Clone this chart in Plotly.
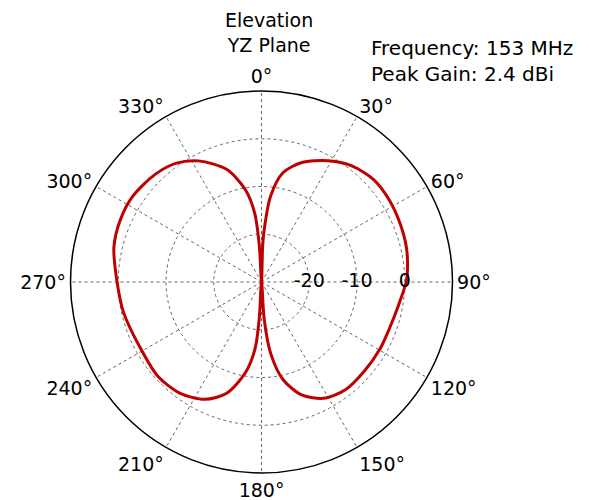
import plotly.graph_objects as go

# Elevation pattern (YZ plane), gain in dBi vs angle (deg, clockwise from top)
theta_deg = [0, 1.8, 2.9, 6.0, 11.1, 18.6, 28.9, 37.9, 47.6, 57.3, 67.2, 76.6, 85.7, 90,
             99.6, 110.1, 119.5, 131.0, 142.1, 151.9, 160.4, 167.6, 172.8, 175.9, 180,
             183.5, 185.5, 190.1, 197.4, 205.8, 216.4, 227.7, 242.5, 257.8, 270,
             283.2, 293.6, 303.6, 315.2, 324.4, 332.5, 342.8, 350.1, 354.4, 356.6, 360]
gain_dbi = [-30, -22.8, -19.2, -12.0, -6.7, -3.6, -1.0, 0.8, 1.8, 1.8, 1.5, 1.2, 0.65, 0.3,
            -0.9, -1.5, -1.5, -1.5, -1.4, -2.4, -4.9, -9.1, -15.1, -22.3, -30,
            -22.5, -16.0, -10.7, -5.6, -2.7, -1.1, -0.65, -1.1, -0.4, 0.25,
            1.75, 2.3, 2.4, 1.7, 0.6, -1.4, -5.3, -10.4, -15.6, -22.7, -30]

radial_ticks = [-20, -10, 0]
radial_range = [-30, 10]
angle_ticks = list(range(0, 360, 30))
title_lines = ["Elevation", "YZ Plane"]
info_lines = ["Frequency: 153 MHz", "Peak Gain: 2.4 dBi"]

FONT = "DejaVu Sans"
FS = 19

fig = go.Figure()
fig.add_trace(go.Scatterpolar(
    r=gain_dbi, theta=theta_deg, mode="lines",
    line=dict(color="#BF0000", width=3, shape="spline", smoothing=0.8),
    hoverinfo="skip", showlegend=False))
# radial tick labels drawn on the rings along the 90° spoke
fig.add_trace(go.Scatterpolar(
    r=radial_ticks, theta=[90] * len(radial_ticks), mode="text",
    text=[str(v) for v in radial_ticks],
    textfont=dict(family=FONT, size=FS, color="black"),
    textposition="middle center", hoverinfo="skip", showlegend=False))

fig.update_layout(
    width=589, height=500,
    margin=dict(l=0, r=0, t=0, b=0),
    paper_bgcolor="white", plot_bgcolor="white",
    font=dict(family=FONT, size=FS, color="black"),
    polar=dict(
        domain=dict(x=[0.1061, 0.7547], y=[0.070, 0.834]),
        bgcolor="white",
        angularaxis=dict(
            rotation=90, direction="clockwise",
            tickmode="array", tickvals=angle_ticks,
            ticktext=[f"{a}°" for a in angle_ticks],
            ticks="", showline=True, linecolor="black", linewidth=1.5,
            showgrid=True, gridcolor="#666666", griddash="dot", gridwidth=1,
            tickfont=dict(family=FONT, size=FS, color="black"),
        ),
        radialaxis=dict(
            range=radial_range, tickmode="array", tickvals=radial_ticks,
            showticklabels=False, ticks="", showline=False, angle=0,
            showgrid=True, gridcolor="#666666", griddash="dot", gridwidth=1,
        ),
    ),
    annotations=[
        dict(text="<br>".join(title_lines), x=0.4423, y=1.003, xref="paper", yref="paper",
             xanchor="center", yanchor="top", showarrow=False,
             font=dict(family=FONT, size=FS, color="black"), align="center"),
        dict(text="<br>".join(info_lines), x=0.613, y=0.948, xref="paper", yref="paper",
             xanchor="left", yanchor="top", showarrow=False,
             font=dict(family=FONT, size=20, color="black"), align="left"),
    ],
)

fig.write_html("out.html")
